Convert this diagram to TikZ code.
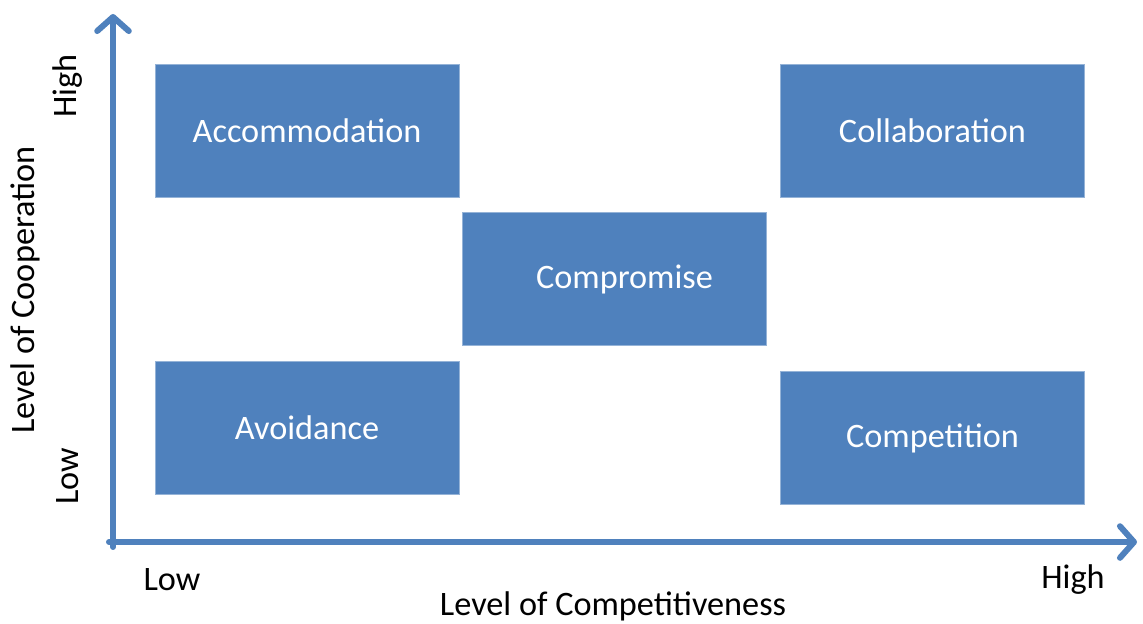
\documentclass[tikz,border=0pt]{standalone}
\usepackage{fontspec}
\setmainfont{Carlito}
\usetikzlibrary{arrows.meta}
\definecolor{boxblue}{HTML}{4F81BD}
\tikzset{
  axis/.style={draw=boxblue,line width=3.4pt,line cap=round,line join=round,
    -{Straight Barb[length=8pt,width=18pt,line cap=round,line join=round]}},
  style box/.style={fill=boxblue,draw=boxblue!60,line width=0.4pt,text=white,
    minimum width=304*0.02cm,minimum height=133*0.02cm,inner sep=0pt,font=\fontsize{19.5}{22}\selectfont},
  axis label/.style={font=\fontsize{19.5}{22}\selectfont,text=black,inner sep=0pt}
}
\begin{document}
\begin{tikzpicture}[x=0.02cm,y=-0.02cm]
	\useasboundingbox (0,0) rectangle (1143,623);
	% axes
	\coordinate (O) at (113,542);
	\coordinate (ytop) at (113,14);
	\coordinate (xend) at (1137,542);
	\draw[axis] (113,547)--(ytop);
	\draw[axis] (109,542)--(xend);
	% the five styles
	\node[style box] (accom) at (307,131) {Accommodation};
	\node[style box] (collab) at (932.5,131) {Collaboration};
	\node[style box] (compro) at (614.5,279) {\hspace*{0.4cm}Compromise};
	\node[style box] (avoid) at (307,428) {Avoidance};
	\node[style box] (compet) at (932.5,438) {Competition};
	% axis labels
	\node[axis label] (xlow) at (172,580) {Low};
	\node[axis label] (xhigh) at (1073,580) {High};
	\node[axis label] (xtitle) at (613,606) {Level of Competitiveness};
	\node[axis label,rotate=90] (ylow) at (68,476) {Low};
	\node[axis label,rotate=90] (yhigh) at (68,86) {High};
	\node[axis label,rotate=90] (ytitle) at (25,290) {Level of Cooperation};
\end{tikzpicture}
\end{document}
